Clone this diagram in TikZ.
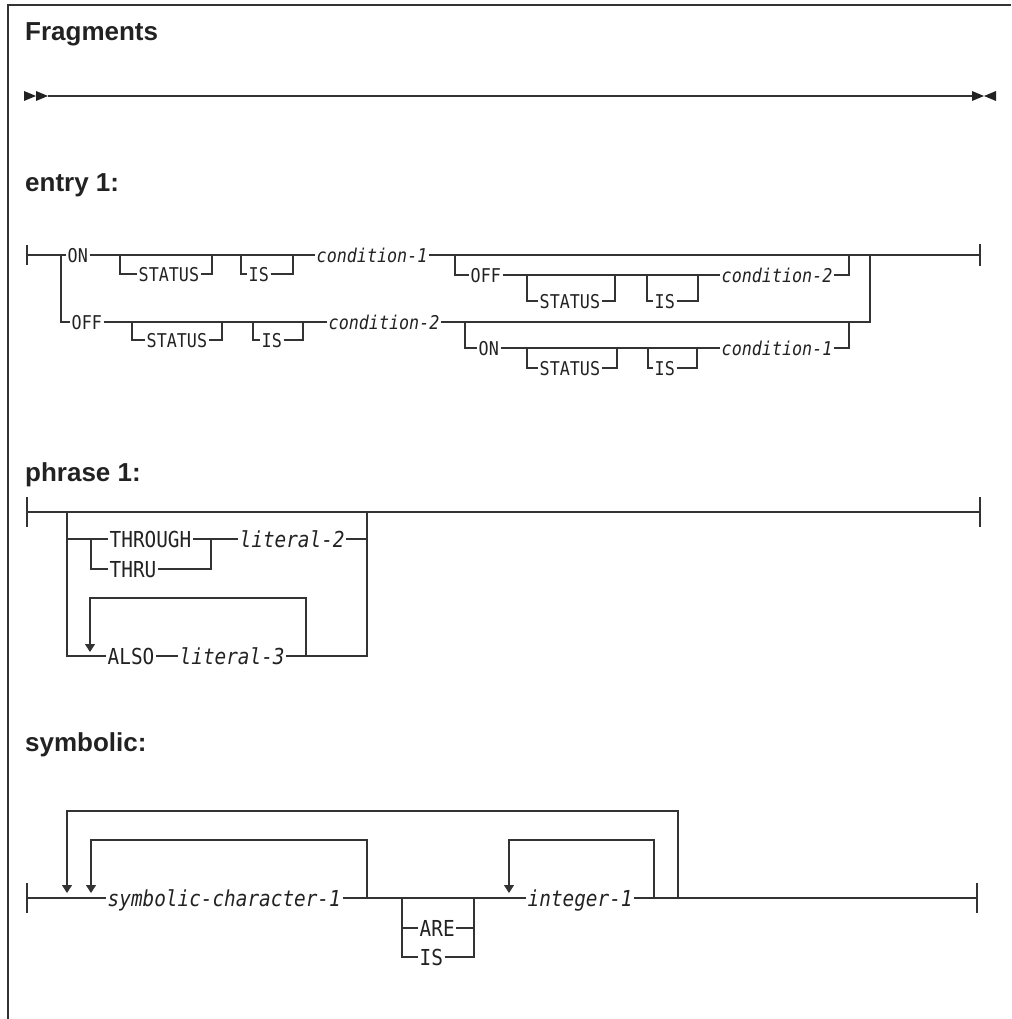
\documentclass[tikz,border=0pt]{standalone}
\usepackage{fontspec}
\usetikzlibrary{arrows.meta}
\newfontfamily\headfont{Liberation Sans}
\newfontfamily\rrfont[FakeStretch=0.88]{DejaVu Sans Mono}
\definecolor{linec}{HTML}{333333}
\definecolor{txtc}{HTML}{222222}
\tikzset{
  rr/.style={draw=linec, line width=1.1pt},
  frame/.style={draw=linec, line width=1.2pt},
  kwa/.style={font=\rrfont\fontsize{19}{20}\selectfont, text=txtc, inner xsep=1.5pt, inner ysep=0pt, text height=14pt, text depth=0pt, anchor=west},
  vra/.style={kwa, font=\rrfont\itshape\fontsize{19}{20}\selectfont},
  kwb/.style={font=\rrfont\fontsize{22}{24}\selectfont, text=txtc, inner xsep=1.5pt, inner ysep=0pt, text height=16pt, text depth=0pt, anchor=west},
  vrb/.style={kwb, font=\rrfont\itshape\fontsize{22}{24}\selectfont},
  loopback/.style={rr, -{Triangle[length=8pt,width=10pt]}},
  head/.style={font=\headfont\bfseries\fontsize{26}{30}\selectfont, text=txtc, anchor=base west, inner sep=0pt},
  tri/.style={fill=txtc, draw=none},
}
\begin{document}
\begin{tikzpicture}[x=1pt,y=-1pt]
\useasboundingbox (0,0) rectangle (1011,1019);
% frame
\draw[frame] (8,1019) -- (8,5) -- (1011,5);
% headings
\node[head] (hf) at (25,41) {Fragments};
\node[head] (he) at (25,191) {entry 1:};
\node[head] (hp) at (25,481) {phrase 1:};
\node[head] (hs) at (25,751) {symbolic:};

% ---------- Fragments main line
\coordinate (fs) at (48,96);
\coordinate (fe) at (972,96);
\fill[tri] (24,91) -- (36,96) -- (24,101) -- cycle;
\fill[tri] (36,91) -- (48,96) -- (36,101) -- cycle;
\draw[rr] (fs) -- (fe);
\fill[tri] (972,91) -- (984,96) -- (972,101) -- cycle;
\fill[tri] (996,91) -- (984,96) -- (996,101) -- cycle;

% ---------- entry 1
\coordinate (e0) at (27,255);
\coordinate (e1) at (980,255);
\draw[rr] (27,245) -- (27,265);
\draw[rr] (980,244) -- (980,266);
\node[kwa] (on1) at (66,255) {ON};
\node[kwa] (st1) at (137,274) {STATUS};
\node[kwa] (is1) at (247,274) {IS};
\node[vra] (c1) at (315,255) {condition-1};
\node[kwa] (off2) at (469,275) {OFF};
\node[kwa] (st2) at (538,301) {STATUS};
\node[kwa] (is2) at (653,301) {IS};
\node[vra] (c2) at (720,275) {condition-2};
\node[kwa] (off1) at (70,322) {OFF};
\node[kwa] (st3) at (145,340) {STATUS};
\node[kwa] (is3) at (260,340) {IS};
\node[vra] (c3) at (327,322) {condition-2};
\node[kwa] (on2) at (477,348) {ON};
\node[kwa] (st4) at (538,368) {STATUS};
\node[kwa] (is4) at (653,368) {IS};
\node[vra] (c4) at (720,348) {condition-1};

\draw[rr] (e0) -- (on1.west);
\draw[rr] (on1.east) -- (c1.west);
\draw[rr] (c1.east) -- (e1);
\draw[rr] (61,255) |- (off1.west);
\draw[rr] (off1.east) -- (c3.west);
\draw[rr] (c3.east) -| (870,255);
\draw[rr] (120,255) |- (st1.west);
\draw[rr] (st1.east) -| (212,255);
\draw[rr] (241,255) |- (is1.west);
\draw[rr] (is1.east) -| (293,255);
\draw[rr] (455,255) |- (off2.west);
\draw[rr] (off2.east) -- (c2.west);
\draw[rr] (c2.east) -| (849,255);
\draw[rr] (527,275) |- (st2.west);
\draw[rr] (st2.east) -| (615,275);
\draw[rr] (647,275) |- (is2.west);
\draw[rr] (is2.east) -| (698,275);
\draw[rr] (132,322) |- (st3.west);
\draw[rr] (st3.east) -| (222,322);
\draw[rr] (253,322) |- (is3.west);
\draw[rr] (is3.east) -| (303,322);
\draw[rr] (465,322) |- (on2.west);
\draw[rr] (on2.east) -- (c4.west);
\draw[rr] (c4.east) -| (849,322);
\draw[rr] (527,348) |- (st4.west);
\draw[rr] (st4.east) -| (617,348);
\draw[rr] (648,348) |- (is4.west);
\draw[rr] (is4.east) -| (697,348);

% ---------- phrase 1
\coordinate (p0) at (27,512);
\coordinate (p1) at (980,512);
\draw[rr] (27,497) -- (27,527);
\draw[rr] (980,497) -- (980,527);
\draw[rr] (p0) -- (p1);
\node[kwb] (thr) at (108,539) {THROUGH};
\node[kwb] (thru) at (108,569) {THRU};
\node[vrb] (l2) at (238,539) {literal-2};
\node[kwb] (also) at (106,656) {ALSO};
\node[vrb] (l3) at (178,656) {literal-3};
\draw[rr] (67,512) -- (67,656) -- (also.west);
\draw[rr] (67,539) -- (thr.west);
\draw[rr] (thr.east) -- (l2.west);
\draw[rr] (l2.east) -- (367,539);
\draw[rr] (91,539) |- (thru.west);
\draw[rr] (thru.east) -| (211,539);
\draw[rr] (also.east) -- (l3.west);
\draw[rr] (l3.east) -| (367,512);
\draw[loopback] (306,656) -- (306,598) -- (90,598) -- (90,652);

% ---------- symbolic
\coordinate (s0) at (27,898);
\coordinate (s1) at (977,898);
\draw[rr] (27,883) -- (27,913);
\draw[rr] (977,883) -- (977,913);
\node[vrb] (sc) at (106,898) {symbolic-character-1};
\node[vrb] (int) at (526,898) {integer-1};
\node[kwb] (are) at (418,928) {ARE};
\node[kwb] (is5) at (418,957) {IS};
\draw[rr] (s0) -- (sc.west);
\draw[rr] (sc.east) -- (int.west);
\draw[rr] (int.east) -- (s1);
\draw[rr] (402,898) |- (is5.west);
\draw[rr] (402,928) -- (are.west);
\draw[rr] (are.east) -- (474,928);
\draw[rr] (is5.east) -| (474,898);
\draw[loopback] (678,898) -- (678,811) -- (67,811) -- (67,893);
\draw[loopback] (367,898) -- (367,840) -- (91,840) -- (91,893);
\draw[loopback] (654,898) -- (654,840) -- (509,840) -- (509,893);
\end{tikzpicture}
\end{document}
